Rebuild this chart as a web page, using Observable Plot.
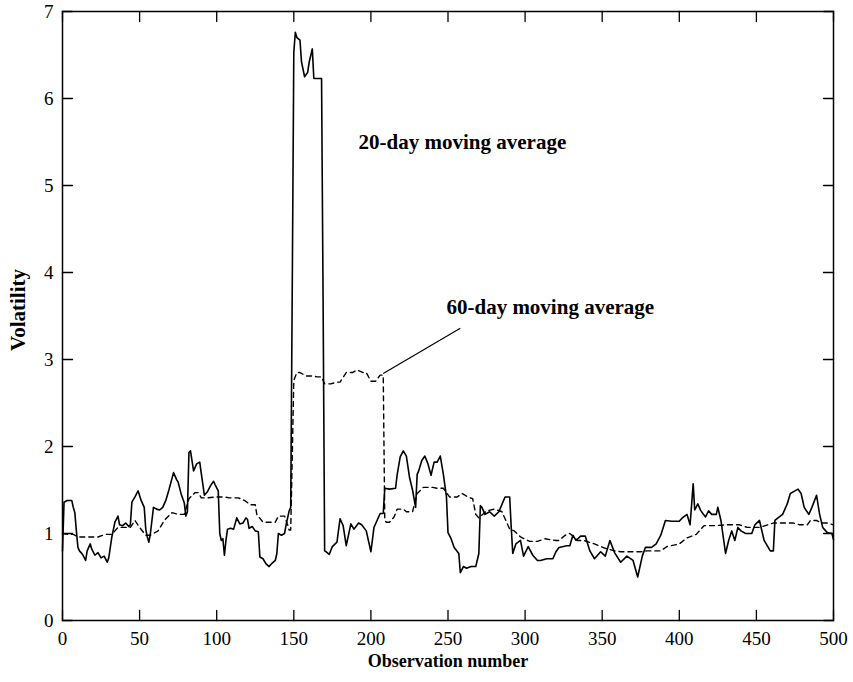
<!DOCTYPE html>
<html>
<head>
<meta charset="utf-8">
<script src="https://cdn.jsdelivr.net/npm/d3@7"></script>
<script src="https://cdn.jsdelivr.net/npm/@observablehq/plot@0.6"></script>
<style>
  html, body { margin: 0; padding: 0; background: #fff; }
  #chart { width: 853px; height: 682px; }
</style>
</head>
<body>
<div id="chart"></div>
<script>
// 20-day moving average (solid)
const obs20 = [0,1,3,6,7,8,9,10,11,13,15,16,18,19,21,23,25,27,29,30,32,34,36,37,39,41,43,44,45,47,49,51,53,54,55,56,57,59,61,63,65,67,69,72,74,75,77,79,80,81,82,83,85,87,89,90,92,94,96,98,99,101,102,103,104,105,106,107,109,111,113,115,117,119,120,121,123,125,127,128,130,132,134,136,138,139,140,142,144,145,147,148,149,150,151,152,154,155,157,159,160,162,163,168,169,170,171,173,175,178,180,182,184,187,189,192,194,197,200,202,204,206,208,209,212,216,217,219,221,223,225,227,229,230,231,233,235,237,239,241,243,245,247,249,250,252,254,257,258,260,262,265,268,270,271,272,274,277,280,283,287,290,291,292,294,297,299,302,305,308,310,314,318,320,322,327,329,331,333,336,339,342,345,349,352,355,358,362,366,370,373,376,378,382,385,388,391,395,400,402,405,407,409,410,412,414,417,419,421,424,425,427,430,432,434,436,438,440,443,447,449,452,455,459,461,462,464,467,470,472,475,477,479,481,484,486,489,491,493,496,499,500];
const vol20 = [0.80,1.36,1.38,1.38,1.30,1.24,1.03,0.84,0.80,0.76,0.69,0.80,0.88,0.82,0.75,0.78,0.72,0.74,0.67,0.72,0.96,1.13,1.20,1.10,1.09,1.12,1.08,1.10,1.36,1.42,1.49,1.38,1.30,1.05,0.96,0.90,1.00,1.30,1.28,1.27,1.30,1.38,1.50,1.70,1.62,1.59,1.45,1.35,1.20,1.25,1.93,1.95,1.72,1.80,1.82,1.69,1.44,1.48,1.55,1.60,1.56,1.49,1.00,0.92,0.94,0.75,0.92,1.05,1.06,1.05,1.18,1.11,1.12,1.18,1.16,1.06,1.08,1.03,1.02,0.73,0.71,0.65,0.62,0.66,0.69,0.77,1.00,0.98,1.00,1.10,1.26,1.30,3.83,6.53,6.76,6.70,6.67,6.42,6.25,6.30,6.42,6.57,6.23,6.23,3.68,0.80,0.79,0.76,0.85,0.90,1.17,1.09,0.86,1.11,1.05,1.12,1.10,1.03,0.79,1.07,1.15,1.23,1.23,1.52,1.51,1.52,1.67,1.88,1.95,1.89,1.65,1.50,1.30,1.68,1.72,1.84,1.89,1.80,1.67,1.82,1.82,1.89,1.68,1.42,1.01,0.94,0.84,0.77,0.55,0.62,0.60,0.62,0.62,0.77,1.32,1.30,1.22,1.25,1.20,1.25,1.42,1.42,1.07,0.77,0.88,0.92,0.74,0.85,0.75,0.69,0.69,0.71,0.71,0.79,0.84,0.86,0.86,0.98,0.92,0.97,0.97,0.80,0.71,0.79,0.74,0.92,0.78,0.67,0.74,0.69,0.50,0.74,0.84,0.84,0.88,0.98,1.15,1.14,1.14,1.18,1.22,1.10,1.57,1.27,1.34,1.26,1.19,1.26,1.22,1.22,1.30,1.15,0.77,0.92,1.03,0.92,1.07,1.03,1.00,1.00,1.10,1.15,0.92,0.80,0.80,1.15,1.18,1.22,1.34,1.46,1.49,1.51,1.46,1.30,1.22,1.30,1.44,1.22,1.07,1.01,1.00,0.93,1.38];

// 60-day moving average (dashed)
const obs60 = [0,4,7,10,16,23,28,32,34,36,40,44,47,50,54,57,62,66,71,75,79,82,86,88,90,94,99,105,108,114,118,122,125,126,130,134,138,140,144,146,147,148,149,150,152,154,158,163,165,168,170,174,178,180,184,188,191,195,197,200,203,206,208,209,210,212,215,217,221,223,227,230,234,240,243,247,251,256,259,263,266,268,270,275,280,285,290,293,297,303,308,313,316,320,322,326,329,334,338,345,352,358,362,368,375,379,388,392,400,405,411,416,422,431,439,444,452,461,465,470,474,478,483,485,489,492,496,500];
const vol60 = [1.00,0.99,0.99,0.96,0.96,0.96,0.99,0.99,1.03,1.07,1.07,1.07,1.15,1.07,0.98,0.98,1.03,1.15,1.24,1.22,1.22,1.40,1.47,1.47,1.41,1.41,1.42,1.42,1.41,1.41,1.38,1.33,1.33,1.22,1.13,1.13,1.13,1.20,1.20,1.10,1.04,1.04,1.88,2.76,2.85,2.85,2.81,2.81,2.80,2.80,2.72,2.72,2.74,2.74,2.85,2.85,2.88,2.85,2.85,2.75,2.75,2.82,2.82,1.15,1.13,1.13,1.19,1.28,1.28,1.25,1.25,1.46,1.53,1.53,1.52,1.52,1.42,1.42,1.46,1.42,1.40,1.22,1.18,1.26,1.28,1.25,1.05,1.03,0.96,0.91,0.91,0.94,0.93,0.92,0.92,0.98,1.00,0.92,0.92,0.88,0.83,0.80,0.79,0.79,0.79,0.80,0.80,0.85,0.88,0.95,0.99,1.09,1.09,1.10,1.10,1.07,1.07,1.12,1.12,1.12,1.12,1.10,1.10,1.15,1.15,1.12,1.12,1.10];

const xTicks = [0,50,100,150,200,250,300,350,400,450,500];
const yTicks = [0,1,2,3,4,5,6,7];

// annotations
const labelText = ["20-day moving average", "60-day moving average"];
const labelObs = [192, 249];
const labelVol = [5.5, 3.6];
const leaderObs = [208, 258];
const leaderVol = [2.84, 3.36];

const d20 = obs20.map((x, i) => ({x, y: vol20[i]}));
const d60 = obs60.map((x, i) => ({x, y: vol60[i]}));
const labels = labelText.map((t, i) => ({t, x: labelObs[i], y: labelVol[i]}));

const FONT = "'Liberation Serif', 'Times New Roman', serif";
const tickLine = {draw(context, l) { context.moveTo(0, 0); context.lineTo(0, -l); }};
const TL = 10;

const chart = Plot.plot({
  width: 853,
  height: 682,
  marginLeft: 62,
  marginRight: 20,
  marginTop: 11,
  marginBottom: 62,
  style: {fontFamily: FONT, fontSize: "19px", color: "#000", background: "#fff"},
  x: {domain: [0, 500]},
  y: {domain: [0, 7]},
  marks: [
    Plot.line(d60, {x: "x", y: "y", stroke: "#000", strokeWidth: 1.4, strokeDasharray: "5,4"}),
    Plot.line(d20, {x: "x", y: "y", stroke: "#000", strokeWidth: 1.6}),
    Plot.link([0], {x1: () => leaderObs[0], y1: () => leaderVol[0], x2: () => leaderObs[1], y2: () => leaderVol[1], stroke: "#000", strokeWidth: 1.2}),
    Plot.text(labels, {x: "x", y: "y", text: "t", textAnchor: "start", fontWeight: "bold", fontSize: 21}),
    Plot.frame({stroke: "#000", strokeWidth: 1.5}),
    // inward ticks on all four sides
    Plot.vector(xTicks, {x: d => d, frameAnchor: "bottom", rotate: 0, length: TL, anchor: "start", shape: tickLine, stroke: "#000", strokeWidth: 1.3}),
    Plot.vector(xTicks, {x: d => d, frameAnchor: "top", rotate: 180, length: TL, anchor: "start", shape: tickLine, stroke: "#000", strokeWidth: 1.3}),
    Plot.vector(yTicks, {y: d => d, frameAnchor: "left", rotate: 90, length: TL, anchor: "start", shape: tickLine, stroke: "#000", strokeWidth: 1.3}),
    Plot.vector(yTicks, {y: d => d, frameAnchor: "right", rotate: -90, length: TL, anchor: "start", shape: tickLine, stroke: "#000", strokeWidth: 1.3}),
    Plot.axisX(xTicks, {anchor: "bottom", tickSize: 0, tickPadding: 11, label: null, tickFormat: d3.format("d"), fontSize: 19}),
    Plot.axisY(yTicks, {anchor: "left", tickSize: 0, tickPadding: 9, label: null, tickFormat: d3.format("d"), fontSize: 19}),
    Plot.text(["Observation number"], {frameAnchor: "bottom", dy: 46, fontWeight: "bold", fontSize: 18}),
    Plot.text(["Volatility"], {frameAnchor: "left", textAnchor: "middle", dx: -44, dy: -6, rotate: -90, fontWeight: "bold", fontSize: 21})
  ]
});
document.getElementById("chart").appendChild(chart);
</script>
</body>
</html>
